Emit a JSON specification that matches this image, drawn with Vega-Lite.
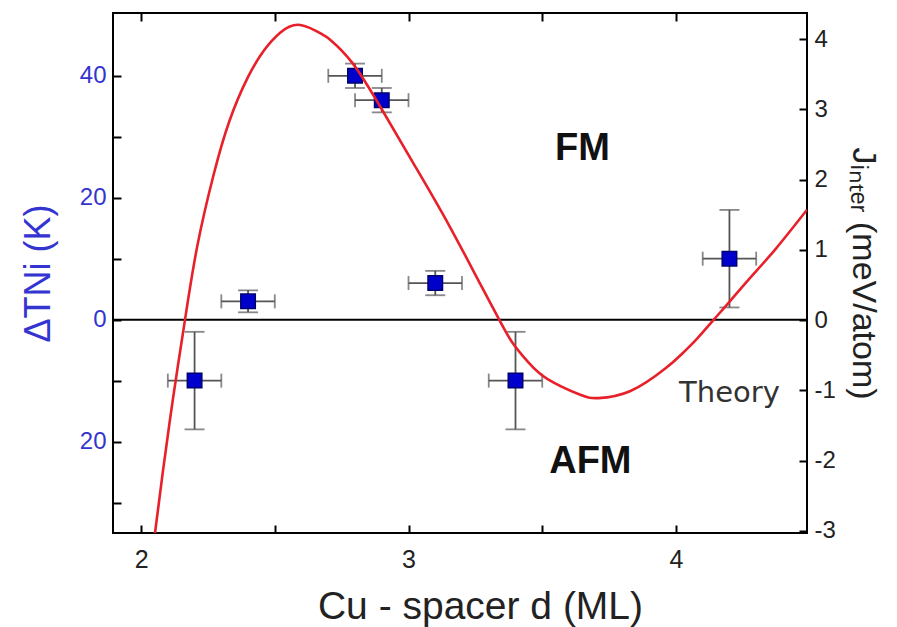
{
  "$schema": "https://vega.github.io/schema/vega-lite/v6.json",
  "width": 694,
  "height": 520,
  "autosize": {"type": "none"},
  "padding": {"left": 113, "top": 13, "right": 90, "bottom": 94},
  "background": "white",
  "config": {
    "view": {"stroke": "black", "strokeWidth": 2},
    "font": "Liberation Sans",
    "axis": {"grid": false, "domain": false, "tickColor": "black", "tickWidth": 2, "labelFont": "Liberation Sans", "titleFont": "Liberation Sans", "titleFontWeight": "normal"}
  },
  "datasets": {
    "exp": [
      {"d": 2.2, "dT": -10, "dlo": 2.1, "dhi": 2.3, "tlo": -18, "thi": -2},
      {"d": 2.4, "dT": 3, "dlo": 2.3, "dhi": 2.5, "tlo": 1.2, "thi": 4.8},
      {"d": 2.8, "dT": 40, "dlo": 2.7, "dhi": 2.9, "tlo": 38, "thi": 42},
      {"d": 2.9, "dT": 36, "dlo": 2.8, "dhi": 3.0, "tlo": 34, "thi": 38},
      {"d": 3.1, "dT": 6, "dlo": 3.0, "dhi": 3.2, "tlo": 4, "thi": 8},
      {"d": 3.4, "dT": -10, "dlo": 3.3, "dhi": 3.5, "tlo": -18, "thi": -2},
      {"d": 4.2, "dT": 10, "dlo": 4.1, "dhi": 4.3, "tlo": 2, "thi": 18}
    ],
    "theory": [
      {"d": 2.04, "J": -3.39},
      {"d": 2.08, "J": -2.20},
      {"d": 2.12, "J": -1.10},
      {"d": 2.164, "J": 0.0},
      {"d": 2.21, "J": 1.05},
      {"d": 2.27, "J": 2.05},
      {"d": 2.33, "J": 2.83},
      {"d": 2.40, "J": 3.46},
      {"d": 2.46, "J": 3.84},
      {"d": 2.52, "J": 4.09},
      {"d": 2.595, "J": 4.2},
      {"d": 2.68, "J": 4.06},
      {"d": 2.71, "J": 3.98},
      {"d": 2.79, "J": 3.66},
      {"d": 2.90, "J": 3.0},
      {"d": 3.02, "J": 2.22},
      {"d": 3.15, "J": 1.36},
      {"d": 3.27, "J": 0.50},
      {"d": 3.34, "J": 0.0},
      {"d": 3.39, "J": -0.33},
      {"d": 3.45, "J": -0.61},
      {"d": 3.52, "J": -0.84},
      {"d": 3.64, "J": -1.06},
      {"d": 3.71, "J": -1.11},
      {"d": 3.83, "J": -1.01},
      {"d": 3.96, "J": -0.69},
      {"d": 4.02, "J": -0.49},
      {"d": 4.08, "J": -0.26},
      {"d": 4.14, "J": 0.0},
      {"d": 4.20, "J": 0.26},
      {"d": 4.27, "J": 0.57},
      {"d": 4.37, "J": 1.0},
      {"d": 4.49, "J": 1.57}
    ],
    "labels": [
      {"d": 3.65, "dT": 28, "text": "FM"},
      {"d": 3.68, "dT": -23.4, "text": "AFM"}
    ],
    "note": [
      {"d": 4.2, "dT": -12, "text": "Theory"}
    ],
    "zero": [
      {"dT": 0}
    ]
  },
  "layer": [
    {
      "data": {"name": "zero"},
      "mark": {"type": "rule", "color": "black", "strokeWidth": 2},
      "encoding": {
        "y": {"field": "dT", "type": "quantitative", "scale": {"domain": [-35, 50.3], "nice": false, "zero": false}, "axis": null}
      }
    },
    {
      "data": {"name": "exp"},
      "mark": {"type": "rule", "color": "#555555", "strokeWidth": 1.8},
      "encoding": {
        "x": {"field": "d", "type": "quantitative", "scale": {"domain": [1.895, 4.49], "nice": false, "zero": false}, "axis": null},
        "y": {"field": "tlo", "type": "quantitative", "scale": {"domain": [-35, 50.3], "nice": false, "zero": false}, "axis": null},
        "y2": {"field": "thi"}
      }
    },
    {
      "data": {"name": "exp"},
      "mark": {"type": "rule", "color": "#555555", "strokeWidth": 1.8},
      "encoding": {
        "x": {"field": "dlo", "type": "quantitative", "scale": {"domain": [1.895, 4.49], "nice": false, "zero": false}, "axis": null},
        "x2": {"field": "dhi"},
        "y": {"field": "dT", "type": "quantitative", "scale": {"domain": [-35, 50.3], "nice": false, "zero": false}, "axis": null}
      }
    },
    {
      "data": {"name": "exp"},
      "mark": {"type": "tick", "orient": "horizontal", "color": "#555555", "size": 20, "thickness": 1.8},
      "encoding": {
        "x": {"field": "d", "type": "quantitative", "scale": {"domain": [1.895, 4.49], "nice": false, "zero": false}, "axis": null},
        "y": {"field": "tlo", "type": "quantitative", "scale": {"domain": [-35, 50.3], "nice": false, "zero": false}, "axis": null}
      }
    },
    {
      "data": {"name": "exp"},
      "mark": {"type": "tick", "orient": "horizontal", "color": "#555555", "size": 20, "thickness": 1.8},
      "encoding": {
        "x": {"field": "d", "type": "quantitative", "scale": {"domain": [1.895, 4.49], "nice": false, "zero": false}, "axis": null},
        "y": {"field": "thi", "type": "quantitative", "scale": {"domain": [-35, 50.3], "nice": false, "zero": false}, "axis": null}
      }
    },
    {
      "data": {"name": "exp"},
      "mark": {"type": "tick", "orient": "vertical", "color": "#555555", "size": 14, "thickness": 1.8},
      "encoding": {
        "x": {"field": "dlo", "type": "quantitative", "scale": {"domain": [1.895, 4.49], "nice": false, "zero": false}, "axis": null},
        "y": {"field": "dT", "type": "quantitative", "scale": {"domain": [-35, 50.3], "nice": false, "zero": false}, "axis": null}
      }
    },
    {
      "data": {"name": "exp"},
      "mark": {"type": "tick", "orient": "vertical", "color": "#555555", "size": 14, "thickness": 1.8},
      "encoding": {
        "x": {"field": "dhi", "type": "quantitative", "scale": {"domain": [1.895, 4.49], "nice": false, "zero": false}, "axis": null},
        "y": {"field": "dT", "type": "quantitative", "scale": {"domain": [-35, 50.3], "nice": false, "zero": false}, "axis": null}
      }
    },
    {
      "data": {"name": "exp"},
      "mark": {"type": "point", "shape": "square", "filled": true, "size": 210, "color": "#0000cc", "stroke": "#000070", "strokeWidth": 1.5, "opacity": 1},
      "encoding": {
        "x": {
          "field": "d", "type": "quantitative",
          "scale": {"domain": [1.895, 4.49], "nice": false, "zero": false},
          "axis": {
            "orient": "bottom",
            "title": "Cu - spacer d (ML)",
            "titleFontSize": 39,
            "titleColor": "#222222",
            "titlePadding": 15,
            "titleX": 367,
            "values": [2, 2.5, 3, 3.5, 4],
            "labelExpr": "datum.value % 1 == 0 ? format(datum.value, 'd') : ''",
            "labelFontSize": 25,
            "labelColor": "#222222",
            "labelPadding": 22,
            "tickSize": -8
          }
        },
        "y": {
          "field": "dT", "type": "quantitative",
          "scale": {"domain": [-35, 50.3], "nice": false, "zero": false},
          "axis": {
            "orient": "left",
            "title": "ΔTNi (K)",
            "titleFontSize": 36,
            "titleColor": "#3434d0",
            "titlePadding": 22,
            "values": [-30, -20, -10, 0, 10, 20, 30, 40],
            "labelExpr": "datum.value % 20 == 0 ? '' + abs(datum.value) : ''",
            "labelFontSize": 24,
            "labelColor": "#3434d0",
            "labelPadding": 15,
            "tickSize": -8
          }
        }
      }
    },
    {
      "data": {"name": "labels"},
      "mark": {"type": "text", "font": "Liberation Sans", "fontWeight": "bold", "fontSize": 38, "color": "#111111", "baseline": "middle", "align": "center"},
      "encoding": {
        "x": {"field": "d", "type": "quantitative", "scale": {"domain": [1.895, 4.49], "nice": false, "zero": false}, "axis": null},
        "y": {"field": "dT", "type": "quantitative", "scale": {"domain": [-35, 50.3], "nice": false, "zero": false}, "axis": null},
        "text": {"field": "text"}
      }
    },
    {
      "data": {"name": "note"},
      "mark": {"type": "text", "font": "DejaVu Sans", "fontSize": 29, "color": "#333333", "baseline": "middle", "align": "center"},
      "encoding": {
        "x": {"field": "d", "type": "quantitative", "scale": {"domain": [1.895, 4.49], "nice": false, "zero": false}, "axis": null},
        "y": {"field": "dT", "type": "quantitative", "scale": {"domain": [-35, 50.3], "nice": false, "zero": false}, "axis": null},
        "text": {"field": "text"}
      }
    },
    {
      "data": {"name": "theory"},
      "mark": {"type": "line", "color": "#e8202a", "strokeWidth": 2.6, "interpolate": "natural", "clip": true},
      "encoding": {
        "x": {
          "field": "d", "type": "quantitative",
          "scale": {"domain": [1.895, 4.49], "nice": false, "zero": false},
          "axis": {
            "orient": "top",
            "title": null,
            "labels": false,
            "values": [2, 2.5, 3, 3.5, 4],
            "tickSize": -8
          }
        },
        "y": {
          "field": "J", "type": "quantitative",
          "scale": {"domain": [-3.03, 4.37], "nice": false, "zero": false},
          "axis": {
            "orient": "right",
            "title": "Jᵢₙₜₑᵣ (meV/atom)",
            "titleFontSize": 34,
            "titleColor": "#222222",
            "titlePadding": 10,
            "values": [-3, -2, -1, 0, 1, 2, 3, 4],
            "labelExpr": "'' + datum.value",
            "labelFontSize": 24,
            "labelColor": "#222222",
            "labelPadding": 15,
            "tickSize": -8
          }
        }
      }
    }
  ],
  "resolve": {"scale": {"y": "independent"}, "axis": {"x": "independent"}}
}
